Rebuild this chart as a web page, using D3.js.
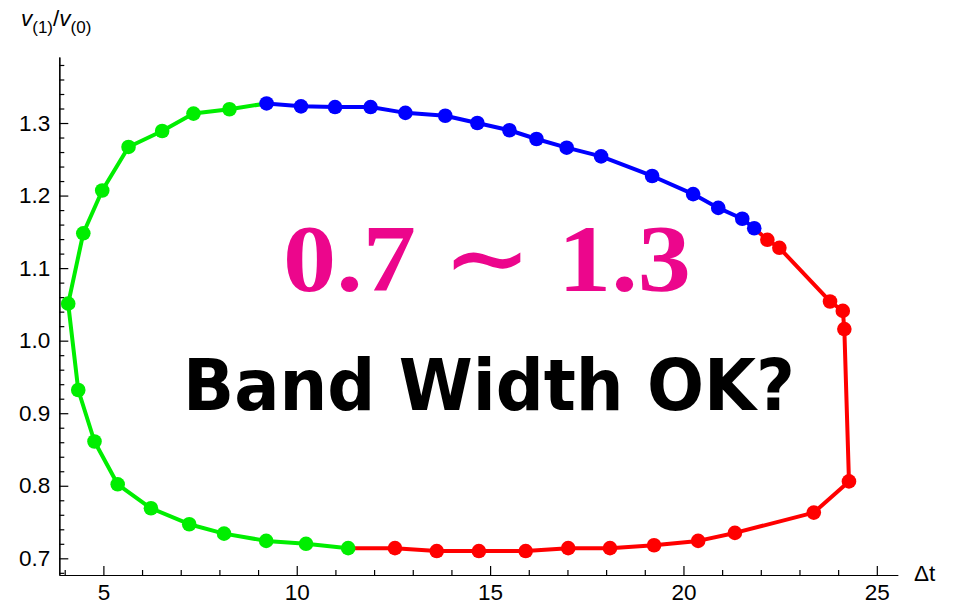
<!DOCTYPE html>
<html>
<head>
<meta charset="utf-8">
<script src="https://cdnjs.cloudflare.com/ajax/libs/d3/7.8.5/d3.min.js"></script>
<style>
  body { margin: 0; background: #fff; }
  .axis text { font-family: "Liberation Sans", Arial, sans-serif; font-size: 22.5px; fill: #000; }
  .axis path, .axis line { stroke: #000; stroke-width: 1.2; }
</style>
</head>
<body>
<script>
// data: delta t vs v(1)/v(0), one loop split in three colours
var greenDt = [11.33, 10.24, 9.21, 8.12, 7.22, 6.23, 5.37, 4.77, 4.35, 4.09, 4.48, 4.97, 5.65, 6.52, 7.33, 8.26];
var greenV  = [0.714, 0.720, 0.724, 0.734, 0.747, 0.769, 0.802, 0.861, 0.932, 1.051, 1.148, 1.207, 1.267, 1.289, 1.313, 1.319];

var blueDt = [9.22, 10.11, 10.99, 11.91, 12.81, 13.84, 14.67, 15.50, 16.20, 16.98, 17.87, 19.19, 20.25, 20.90, 21.52, 21.83];
var blueV  = [1.327, 1.323, 1.322, 1.322, 1.314, 1.310, 1.300, 1.290, 1.278, 1.266, 1.254, 1.227, 1.202, 1.183, 1.168, 1.155];

var redDt = [22.17, 22.48, 23.79, 24.12, 24.16, 24.28, 23.37, 21.33, 20.38, 19.24, 18.10, 17.02, 15.92, 14.71, 13.62, 12.54];
var redV  = [1.139, 1.128, 1.054, 1.041, 1.016, 0.806, 0.763, 0.735, 0.724, 0.718, 0.714, 0.714, 0.710, 0.710, 0.710, 0.714];

var xMajor = [5, 10, 15, 20, 25];
var yMajor = [0.7, 0.8, 0.9, 1.0, 1.1, 1.2, 1.3];

var width = 957, height = 605;

var x = d3.scaleLinear().domain([3.86, 25.54]).range([59.3, 897.7]),
    y = d3.scaleLinear().domain([0.677, 1.391]).range([575, 57]);

var svg = d3.select("body").append("svg")
    .attr("width", width)
    .attr("height", height);

// minor ticks
var xMinor = d3.range(4, 26).filter(function(d) { return d % 5 != 0; });
var yMinor = d3.range(68, 140, 2).map(function(d) { return d / 100; })
    .filter(function(d) { return Math.round(d * 100) % 10 != 0; });

svg.append("g")
    .attr("class", "axis")
    .attr("transform", "translate(0," + y.range()[0] + ")")
    .call(d3.axisBottom(x).tickValues(xMinor).tickFormat("").tickSizeInner(-5).tickSizeOuter(0));

svg.append("g")
    .attr("class", "axis")
    .attr("transform", "translate(0," + y.range()[0] + ")")
    .call(d3.axisBottom(x).tickValues(xMajor).tickFormat(d3.format("d")).tickSizeInner(-9).tickSizeOuter(0).tickPadding(9));

svg.append("g")
    .attr("class", "axis")
    .attr("transform", "translate(" + x.range()[0] + ",0)")
    .call(d3.axisLeft(y).tickValues(yMinor).tickFormat("").tickSizeInner(-5).tickSizeOuter(0));

svg.append("g")
    .attr("class", "axis")
    .attr("transform", "translate(" + x.range()[0] + ",0)")
    .call(d3.axisLeft(y).tickValues(yMajor).tickFormat(d3.format(".1f")).tickSizeInner(-9).tickSizeOuter(0).tickPadding(9));

// axis labels
svg.append("text")
    .attr("x", 914)
    .attr("y", 581)
    .style("font-family", "Liberation Sans, Arial, sans-serif")
    .style("font-size", "22.5px")
    .text("Δt");

var yLab = svg.append("text")
    .attr("x", 21)
    .attr("y", 26)
    .style("font-family", "Liberation Sans, Arial, sans-serif")
    .style("font-size", "22.5px");
yLab.append("tspan").style("font-style", "italic").text("v");
yLab.append("tspan").attr("dy", 7).style("font-size", "17px").text("(1)");
yLab.append("tspan").attr("dy", -7).text("/");
yLab.append("tspan").style("font-style", "italic").text("v");
yLab.append("tspan").attr("dy", 7).style("font-size", "17px").text("(0)");

// build point lists
function pts(dt, v) {
  return dt.map(function(d, i) { return [d, v[i]]; });
}
var green = pts(greenDt, greenV),
    blue = pts(blueDt, blueV),
    red = pts(redDt, redV);

var line = d3.line()
    .x(function(d) { return x(d[0]); })
    .y(function(d) { return y(d[1]); });

// segments joining colours take the colour of the series drawn into them
var series = [
  { pts: green, path: green.concat([blue[0]]), color: "#00ee00" },
  { pts: blue, path: blue, color: "#0000ff" },
  { pts: red, path: [blue[blue.length - 1]].concat(red, [green[0]]), color: "#ff0000" }
];

series.forEach(function(s) {
  svg.append("path")
      .attr("d", line(s.path))
      .attr("fill", "none")
      .attr("stroke", s.color)
      .attr("stroke-width", 4)
      .attr("stroke-linejoin", "round");
});

series.forEach(function(s) {
  svg.append("g").selectAll("circle")
      .data(s.pts)
    .enter().append("circle")
      .attr("cx", function(d) { return x(d[0]); })
      .attr("cy", function(d) { return y(d[1]); })
      .attr("r", 7.3)
      .attr("fill", s.color);
});

// annotations
svg.append("text")
    .attr("x", 283)
    .attr("y", 291)
    .attr("textLength", 408)
    .attr("lengthAdjust", "spacingAndGlyphs")
    .style("font-family", "Liberation Serif, DejaVu Serif, serif")
    .style("font-weight", "bold")
    .style("font-size", "95px")
    .style("fill", "#ec068c")
    .text("0.7 ∼ 1.3");

svg.append("text")
    .attr("x", 183)
    .attr("y", 410)
    .attr("textLength", 612)
    .attr("lengthAdjust", "spacingAndGlyphs")
    .style("font-family", "DejaVu Sans, sans-serif")
    .style("font-weight", "bold")
    .style("font-size", "71px")
    .style("fill", "#000")
    .text("Band Width OK?");
</script>
</body>
</html>
